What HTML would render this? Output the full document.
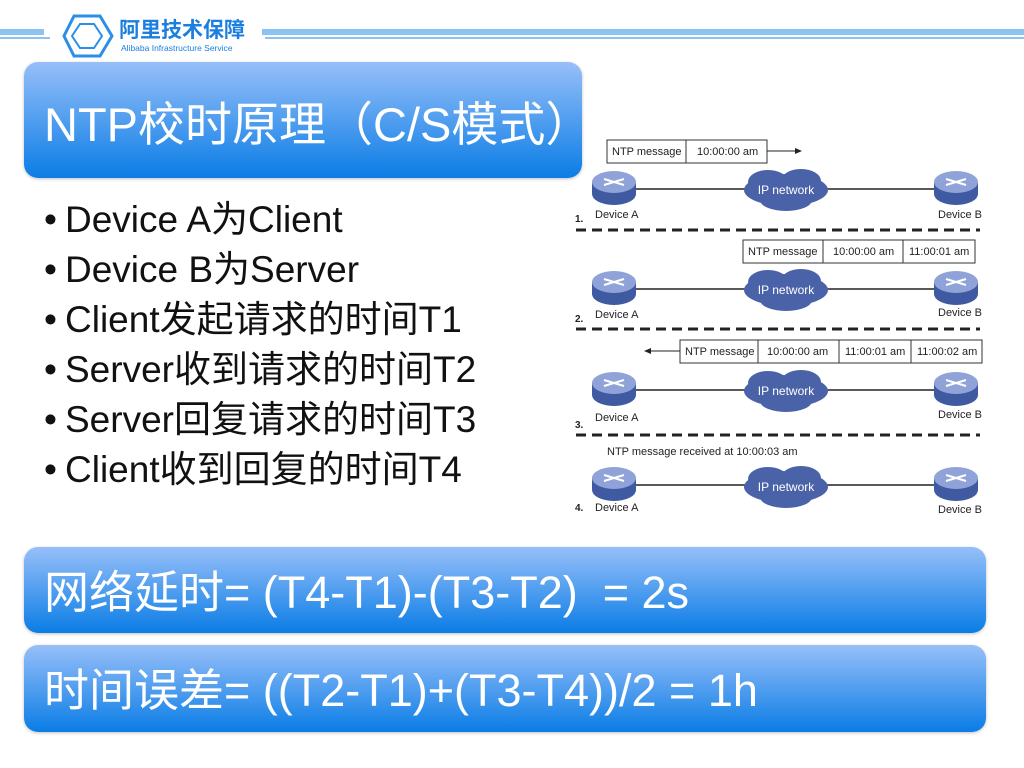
<!DOCTYPE html>
<html><head><meta charset="utf-8"><style>
body{margin:0;width:1024px;height:768px;background:#fff;position:relative;overflow:hidden;font-family:"Liberation Sans","Noto Sans CJK SC",sans-serif}
.box{position:absolute;border-radius:14px;background:linear-gradient(#97bff9,#0a7de5);color:#fff;box-shadow:0 1px 3px rgba(0,0,0,.25)}
.bt{position:absolute;white-space:pre}
.bul{position:absolute;left:44px;font-size:37px;color:#111;white-space:nowrap}
.bul span{display:inline-block;width:21px}
</style></head><body>
<div style="position:absolute;left:0;top:29px;width:44px;height:6px;background:#8cc3f2"></div>
<div style="position:absolute;left:0;top:37px;width:50px;height:2px;background:#8cc3f2"></div>
<div style="position:absolute;left:262px;top:29px;width:762px;height:6px;background:#8cc3f2"></div>
<div style="position:absolute;left:265px;top:37px;width:759px;height:2px;background:#8cc3f2"></div>
<svg style="position:absolute;left:60px;top:12px" width="56" height="48"><polygon points="14,4 40,4 52,24 40,44 14,44 4,24" fill="none" stroke="#2a8fe8" stroke-width="3"/><polygon points="20,12 34,12 42,24 34,36 20,36 12,24" fill="none" stroke="#2a8fe8" stroke-width="2"/></svg>
<div style="position:absolute;left:119px;top:14px;font-size:21px;font-weight:bold;color:#1b7fe0">阿里技术保障</div>
<div style="position:absolute;left:121px;top:43px;font-size:8.5px;color:#1b7fe0">Alibaba Infrastructure Service</div>

<div class="box" style="left:24px;top:62px;width:558px;height:116px"><div class="bt" style="left:20px;top:24px;font-size:47px">NTP校时原理（C/S模式）</div></div>

<div class="bul" style="top:189px"><span>•</span>Device A为Client</div>
<div class="bul" style="top:239px"><span>•</span>Device B为Server</div>
<div class="bul" style="top:289px"><span>•</span>Client发起请求的时间T1</div>
<div class="bul" style="top:339px"><span>•</span>Server收到请求的时间T2</div>
<div class="bul" style="top:389px"><span>•</span>Server回复请求的时间T3</div>
<div class="bul" style="top:439px"><span>•</span>Client收到回复的时间T4</div>

<svg style="position:absolute;left:0;top:0" width="1024" height="768" font-family="Liberation Sans,sans-serif" font-size="11" fill="#222">
<defs>
<g id="dev"><ellipse cx="0" cy="6" rx="22" ry="11" fill="#3f5aa0"/><rect x="-22" y="-6" width="44" height="12" fill="#3f5aa0"/><ellipse cx="0" cy="-6" rx="22" ry="11" fill="#8fa3d8"/><path d="M-10,-9 L10,-3 M-10,-3 L10,-9" stroke="#fff" stroke-width="2"/></g>
<g id="cloud"><ellipse cx="0" cy="0" rx="42" ry="16" fill="#4a62a8"/><ellipse cx="-18" cy="-8" rx="20" ry="12" fill="#4a62a8"/><ellipse cx="15" cy="-9" rx="20" ry="12" fill="#4a62a8"/><ellipse cx="0" cy="10" rx="26" ry="11" fill="#4a62a8"/><text x="0" y="4" text-anchor="middle" fill="#fff" font-size="12">IP network</text></g>
</defs>
<g stroke="#333" stroke-width="1" fill="#fff">
<rect x="607" y="140" width="160" height="23"/><line x1="686" y1="140" x2="686" y2="163"/>
<rect x="743" y="240" width="232" height="23"/><line x1="823" y1="240" x2="823" y2="263"/><line x1="903" y1="240" x2="903" y2="263"/>
<rect x="680" y="340" width="302" height="23"/><line x1="758" y1="340" x2="758" y2="363"/><line x1="839" y1="340" x2="839" y2="363"/><line x1="911" y1="340" x2="911" y2="363"/>
</g>
<line x1="767" y1="151" x2="796" y2="151" stroke="#222"/><polygon points="802,151 795,148 795,154" fill="#222"/>
<line x1="680" y1="351" x2="650" y2="351" stroke="#222"/><polygon points="644,351 651,348 651,354" fill="#222"/>
<text x="612" y="155">NTP message</text><text x="697" y="155">10:00:00 am</text>
<text x="748" y="255">NTP message</text><text x="833" y="255">10:00:00 am</text><text x="909" y="255">11:00:01 am</text>
<text x="685" y="355">NTP message</text><text x="767" y="355">10:00:00 am</text><text x="845" y="355">11:00:01 am</text><text x="917" y="355">11:00:02 am</text>
<text x="607" y="455">NTP message received at 10:00:03 am</text>
<g stroke="#222" stroke-width="1.5"><line x1="615" y1="189" x2="955" y2="189"/><line x1="615" y1="289" x2="955" y2="289"/><line x1="615" y1="390" x2="955" y2="390"/><line x1="615" y1="485" x2="955" y2="485"/></g>
<g stroke="#222" stroke-width="3" stroke-dasharray="10,6"><line x1="576" y1="230" x2="980" y2="230"/><line x1="576" y1="329" x2="980" y2="329"/><line x1="576" y1="435" x2="980" y2="435"/></g>
<use href="#dev" x="614" y="188"/><use href="#dev" x="956" y="188"/>
<use href="#dev" x="614" y="288"/><use href="#dev" x="956" y="288"/>
<use href="#dev" x="614" y="389"/><use href="#dev" x="956" y="389"/>
<use href="#dev" x="614" y="484"/><use href="#dev" x="956" y="484"/>
<use href="#cloud" x="786" y="190"/><use href="#cloud" x="786" y="290"/><use href="#cloud" x="786" y="391"/><use href="#cloud" x="786" y="487"/>
<text x="595" y="218">Device A</text><text x="938" y="218">Device B</text><text x="575" y="222" font-weight="bold" font-size="10">1.</text>
<text x="595" y="318">Device A</text><text x="938" y="316">Device B</text><text x="575" y="322" font-weight="bold" font-size="10">2.</text>
<text x="595" y="421">Device A</text><text x="938" y="418">Device B</text><text x="575" y="428" font-weight="bold" font-size="10">3.</text>
<text x="595" y="511">Device A</text><text x="938" y="513">Device B</text><text x="575" y="511" font-weight="bold" font-size="10">4.</text>
</svg>

<div class="box" style="left:24px;top:547px;width:962px;height:86px"><div class="bt" style="left:20px;top:9px;font-size:45px">网络延时= (T4-T1)-(T3-T2)  = 2s</div></div>
<div class="box" style="left:24px;top:645px;width:962px;height:87px"><div class="bt" style="left:20px;top:9px;font-size:45px">时间误差= ((T2-T1)+(T3-T4))/2 = 1h</div></div>
</body></html>
